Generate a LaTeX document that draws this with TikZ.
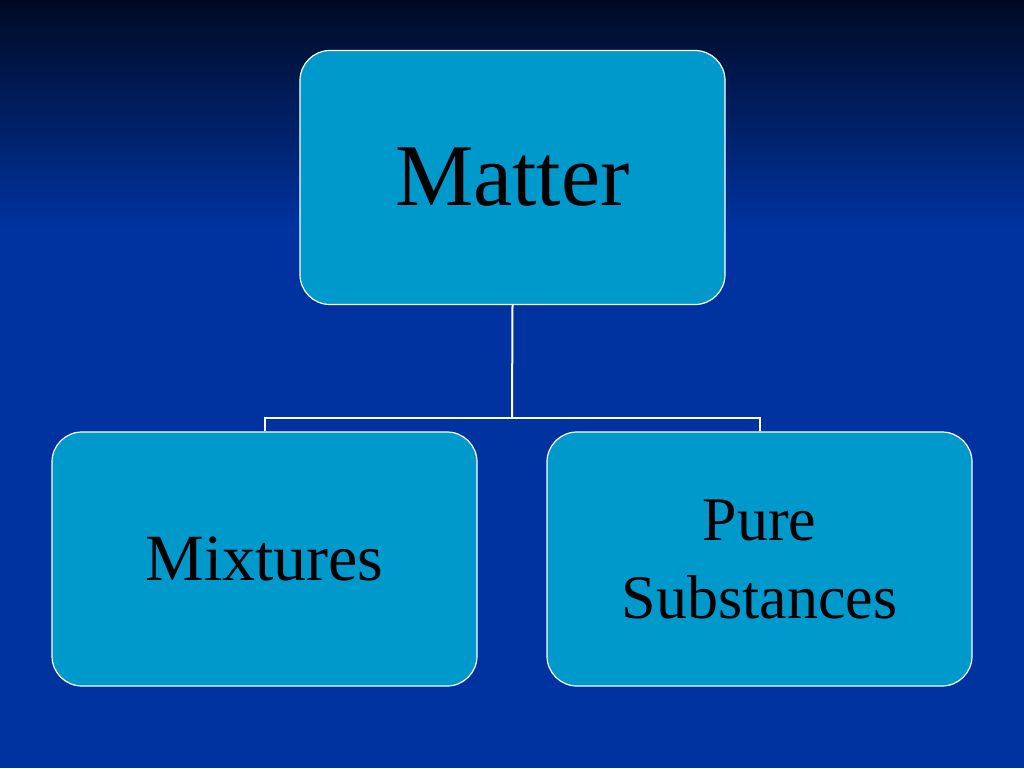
\documentclass[tikz,border=0pt]{standalone}
\usepackage{fontspec}
\setmainfont{Liberation Serif}
\usetikzlibrary{positioning}
\definecolor{navytop}{HTML}{000A24}
\definecolor{slideblue}{HTML}{0033A0}
\definecolor{boxblue}{HTML}{0099CC}
\tikzset{
  box/.style = {draw=white, line width=1.2pt, fill=boxblue, rounded corners=30pt,
                minimum width=425pt, minimum height=254pt, align=center,
                text=black, inner sep=0pt},
  link/.style = {draw=white, line width=2pt}
}
\begin{document}
\begin{tikzpicture}[x=1pt,y=-1pt]
\useasboundingbox (0,0) rectangle (1024,768);
% background
\shade[top color=navytop, bottom color=slideblue] (0,0) rectangle (1024,230);
\fill[slideblue] (0,229) rectangle (1024,768);

% boxes
\node[box, font=\fontsize{88}{96}\selectfont] (matter) at (512.5,177.5) {Matter};
\node[box, font=\fontsize{66}{76}\selectfont] (mix) at (264.5,559) {Mixtures};
\node[box, font=\fontsize{62}{78}\selectfont] (pure) at (759.5,559) {Pure\\Substances};

% connectors
\coordinate (split) at (512,418);
\draw[link] (matter.south) -- (split);
\draw[link] (mix.north) |- (split) -| (pure.north);
\end{tikzpicture}
\end{document}
